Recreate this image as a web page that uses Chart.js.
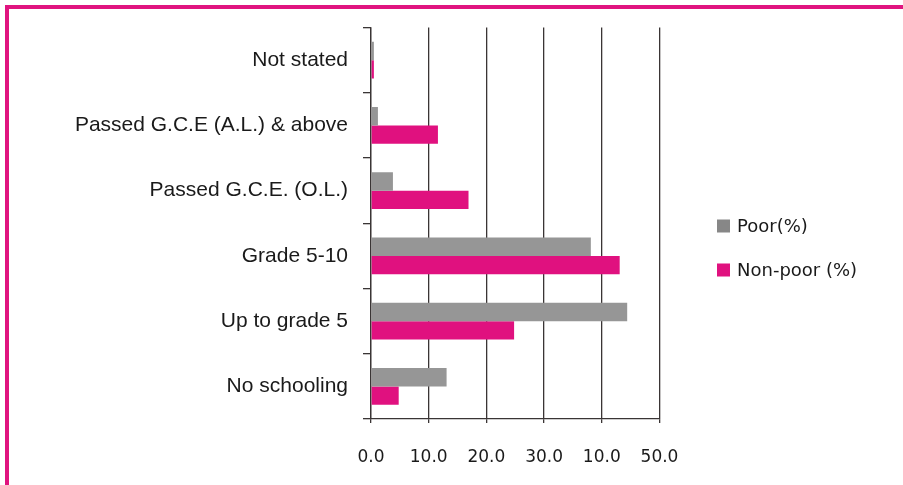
<!DOCTYPE html>
<html>
<head>
<meta charset="utf-8">
<script src="https://cdn.jsdelivr.net/npm/chart.js@4.4.1/dist/chart.umd.min.js"></script>
<style>
  html, body { margin: 0; padding: 0; background: #fff; }
  #wrap { position: relative; width: 903px; height: 485px; overflow: hidden; }
  #frame { position: absolute; left: 5px; top: 5px; right: -10px; bottom: -10px;
           border-top: 4px solid #E0147F; border-left: 4px solid #E0147F; }
  canvas { position: absolute; left: 0; top: 0; }
</style>
</head>
<body>
<div id="wrap">
  <div id="frame"></div>
  <canvas id="c" width="903" height="485"></canvas>
</div>
<script>
const categories = [
  "Not stated",
  "Passed G.C.E (A.L.) & above",
  "Passed G.C.E. (O.L.)",
  "Grade 5-10",
  "Up to grade 5",
  "No schooling"
];
const poor = [0.5, 1.2, 3.8, 38.1, 44.4, 13.1];
const nonPoor = [0.5, 11.6, 16.9, 43.1, 24.8, 4.8];
const xTickLabels = ["0.0", "10.0", "20.0", "30.0", "10.0", "50.0"];
const seriesNames = ["Poor(%)", "Non-poor (%)"];

const GRAY = "#969696";
const MAGENTA = "#E0117F";

const legendPlugin = {
  id: "customLegend",
  afterDraw(chart) {
    const ctx = chart.ctx;
    ctx.save();
    ctx.font = "18px 'DejaVu Sans'";
    ctx.textBaseline = "middle";
    ctx.textAlign = "left";
    const ys = [226, 270];
    chart.data.datasets.forEach((ds, i) => {
      ctx.fillStyle = i === 0 ? "#878787" : ds.backgroundColor;
      ctx.fillRect(717, ys[i] - 6.5, 13, 13);
      ctx.fillStyle = "#1a1a1a";
      ctx.fillText(ds.label, 737, ys[i] + 1);
    });
    ctx.restore();
  }
};

new Chart(document.getElementById("c"), {
  type: "bar",
  data: {
    labels: categories,
    datasets: [
      { label: seriesNames[0], data: poor, backgroundColor: GRAY },
      { label: seriesNames[1], data: nonPoor, backgroundColor: MAGENTA }
    ]
  },
  options: {
    indexAxis: "y",
    responsive: false,
    animation: false,
    devicePixelRatio: 1,
    categoryPercentage: 0.563,
    barPercentage: 1.0,
    layout: { padding: { top: 25, right: 243.5, left: 0, bottom: 0 } },
    plugins: { legend: { display: false }, tooltip: { enabled: false } },
    scales: {
      x: {
        min: 0, max: 50,
        ticks: {
          stepSize: 10,
          padding: 24,
          color: "#1a1a1a",
          font: { family: "'DejaVu Sans'", size: 17 },
          callback: (v, i) => xTickLabels[i]
        },
        grid: { color: "#3a3535", lineWidth: 1.3, drawTicks: true, tickLength: 4 },
        border: { display: true, color: "#3a3535", width: 1.3 },
        afterFit(scale) { scale.height = 66; }
      },
      y: {
        ticks: {
          padding: 15,
          color: "#1a1a1a",
          font: { family: "'Liberation Sans', Arial, sans-serif", size: 21 }
        },
        grid: { display: true, drawOnChartArea: false, drawTicks: true, tickLength: 8, color: "#3a3535", lineWidth: 1.3, offset: true },
        border: { display: true, color: "#3a3535", width: 1.3 },
        afterFit(scale) { scale.width = 371; }
      }
    }
  },
  plugins: [legendPlugin]
});
</script>
</body>
</html>
